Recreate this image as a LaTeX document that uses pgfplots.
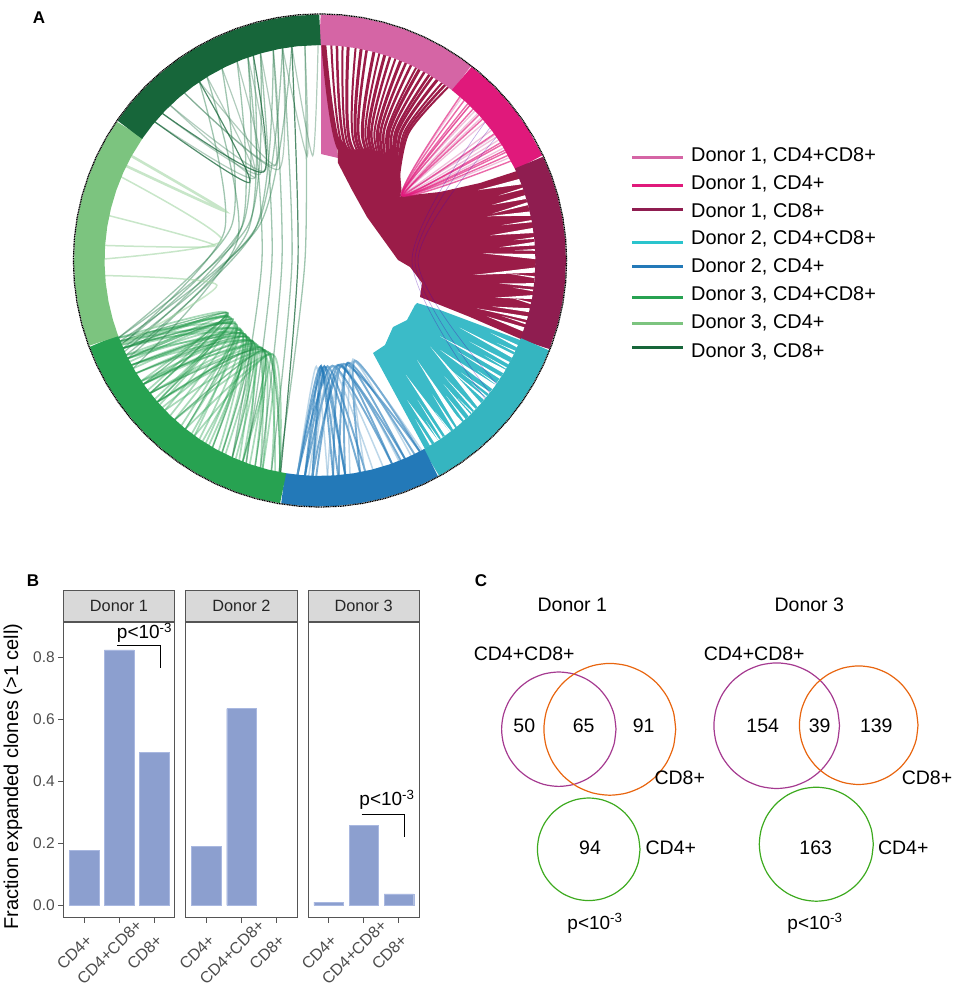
\documentclass[border=0pt]{standalone}
\usepackage{fontspec}
\setmainfont{Liberation Sans}
\usepackage{pgfplots}
\usepackage{pgfplotstable}
\pgfplotsset{compat=1.18}
\newcommand\fs[1]{\fontsize{#1}{#1}\selectfont}

\definecolor{dacd48}{HTML}{D565A5}
\definecolor{dacd4}{HTML}{E0197B}
\definecolor{dacd8}{HTML}{8F1D50}
\definecolor{dbcd48}{HTML}{35B5C0}
\definecolor{dbcd4}{HTML}{2379B8}
\definecolor{dccd48}{HTML}{27A251}
\definecolor{dccd4}{HTML}{7CC47F}
\definecolor{dccd8}{HTML}{17663A}
\definecolor{solidred}{HTML}{9B1C48}
\definecolor{solidteal}{HTML}{3BBBC8}
\definecolor{barblue}{HTML}{8C9FCF}
\definecolor{barline}{HTML}{A9B8E0}
\definecolor{frame}{HTML}{555555}
\definecolor{ticktxt}{HTML}{4D4D4D}
\definecolor{vpurple}{HTML}{A53A90}
\definecolor{vorange}{HTML}{E8650F}
\definecolor{vgreen}{HTML}{3DAA1F}

\pgfplotsset{
  canvas/.style={scale only axis, width=957pt, height=988pt, at={(0pt,0pt)},
    anchor=south west, hide axis, clip=false},
  pixel/.style={canvas, xmin=0, xmax=957, ymin=0, ymax=988, y dir=reverse},
  circ/.style={canvas, xmin=-320, xmax=637, ymin=-727.5, ymax=260.5},
  chB/.style={smooth, tension=.4, draw=dbcd4, line width=1.9pt, opacity=.62},
  chBp/.style={smooth, tension=.4, draw=dbcd4!60, line width=1.5pt, opacity=.5},
  chG/.style={smooth, tension=.4, draw=dccd48, line width=1.7pt, opacity=.4},
  chGb/.style={smooth, tension=.4, draw=dccd48!90!black, line width=1.3pt, opacity=.55},
  chL/.style={smooth, tension=.45, draw=dccd8!75!dccd48, line width=1.3pt, opacity=.42},
  chE/.style={smooth, tension=.4, draw=dccd8!80!white, line width=1.2pt, opacity=.42},
  chEd/.style={smooth, tension=.4, draw=dccd8, line width=1.2pt, opacity=.75},
  chP/.style={smooth, tension=.4, draw=dccd4!70!white, line width=1.5pt, opacity=.6},
  chM/.style={smooth, tension=.4, draw=dacd4, line width=1.4pt, opacity=.65},
  chMp/.style={smooth, tension=.4, draw=dacd48!70!white, line width=1.3pt, opacity=.55},
  chX/.style={smooth, draw=violet!60!blue, line width=.6pt, opacity=.35},
  panel/.style={scale only axis, width=111.3pt, height=295.4pt, anchor=south west,
    xmin=-0.59, xmax=2.58, ymin=-0.04, ymax=0.914, clip=false,
    xtick={0,1,2}, xticklabels={CD4+,CD4+CD8+,CD8+},
    tick align=outside, xtick pos=lower, ytick pos=left,
    major tick length=5pt,
    tick style={frame, line width=1pt}, axis line style={frame, line width=1pt},
    x tick label style={rotate=45, anchor=center, xshift=-27.6pt, yshift=-14.1pt, font=\fs{16.2}, text=ticktxt, inner sep=0pt},
    y tick label style={font=\fs{15.5}, text=ticktxt},
    /pgf/number format/.cd, fixed, fixed zerofill, precision=1, assume math mode=true},
}

% chords: bearing of both ends on the ring, radius of the tip
\newcommand\chords[2]{\foreach \a/\b/\r in {#2}{%
  \pgfmathsetmacro\pa{90-\a}\pgfmathsetmacro\pb{90-\b}\pgfmathsetmacro\pm{90-(\a+\b)/2}%
  \edef\tmp{\noexpand\addplot[#1] coordinates {(\pa,216)(\pm,\r)(\pb,216)};}\tmp}}
% white gaps between the bundled chords: bearing, half width, tip bearing, tip radius
\newcommand\gaps[1]{\foreach \c/\w/\t/\r in {#1}{%
  \pgfmathsetmacro\pa{90-\c+\w}\pgfmathsetmacro\pb{90-\c-\w}\pgfmathsetmacro\pt{90-\t}%
  \edef\tmp{\noexpand\addplot[fill=white, draw=none, data cs=polar] coordinates {(\pa,217)(\pt,\r)(\pb,217)};}\tmp}}
% single strands from the top arc into the solid block
\newcommand\strands[1]{\foreach \a/\w in {#1}{%
  \pgfmathsetmacro\pa{90-\a}\pgfmathsetmacro\pv{90-(8.5+.72*\a)}\pgfmathsetmacro\rv{115+1.1*\a}\pgfmathsetmacro\re{88+.5*\a}%
  \edef\tmp{\noexpand\addplot[smooth, draw=solidred, line width=\w pt, data cs=polar] coordinates {(\pa,216)(\pv,\rv)(43,\re)};}\tmp}}

\pgfplotstableread{
c s
1 0
0.9659 0.2588
0.866 0.5
0.7071 0.7071
0.5 0.866
0.2588 0.9659
0 1
-0.2588 0.9659
-0.5 0.866
-0.7071 0.7071
-0.866 0.5
-0.9659 0.2588
-1 0
-0.9659 -0.2588
-0.866 -0.5
-0.7071 -0.7071
-0.5 -0.866
-0.2588 -0.9659
0 -1
0.2588 -0.9659
0.5 -0.866
0.7071 -0.7071
0.866 -0.5
0.9659 -0.2588
1 0
}\unitcircle

\begin{document}
\begin{tikzpicture}[x=1pt,y=1pt]
\useasboundingbox (0,0) rectangle (957,988);

% ---- panel A: solid bundles
\begin{axis}[pixel]
\addplot[fill=dacd48, draw=none] coordinates {(321,45)(321,154)(338,158)(333,110)(325,50)};
\addplot[fill=solidred, draw=none] coordinates {(338,163)(352,190)(367,217)(398,260)(410,267)(422,283)(420,297)(470,317)(523,340)
  (533,298)(536,260)(533,223)(523,187)(517,171)(480,183)(440,192)(402,196)(400,172)(388,155)(368,148)(350,150)(337,135)};
\addplot[fill=solidteal, draw=none] coordinates {(417,303)(440,310)(520,340)(521,340)(507,368)(485,399)(459,426)(425,449)
  (373,353)(385,345)(393,327)(407,320)(415,305)};
\end{axis}

% ---- panel A: ring and chords
\begin{axis}[circ]
\gaps{68.6/.8/66/173, 72.9/.55/72.1/181, 74.7/.4/74.8/179, 77.5/.6/75.2/173, 82/.7/81.6/172, 85.5/.5/85.8/180,
  89/.7/87.5/163, 92.5/.7/95.4/154, 96.5/.5/97.3/181, 99.7/.55/102/179, 103.3/.55/105/178, 105.5/.5/107/164, 108.7/.6/108.5/176,
  70.5/.25/70/190, 79.5/.3/79/185, 84/.25/84/195, 87.2/.25/87/195, 94.5/.25/94/190, 98/.25/98/195, 101.5/.25/101/195, 107/.25/107/190}
\gaps{116.4/.5/115.7/155, 113.5/.35/113/185, 118.5/.35/118.5/170, 121/.55/122.3/142, 123/.35/123.5/165, 126/.7/126.7/150,
  128/.3/128.5/180, 130/.35/130/170, 132.3/.7/128/140, 134/.3/133/170, 136/.35/135/175, 137.8/.3/137/185,
  139.8/.8/135.7/139, 141.5/.35/140/175, 143.7/.8/143.1/143, 145.5/.3/145/170, 147.3/.6/148/165, 149/.3/149/185,
  115/.2/115/195, 120/.2/120/190, 125/.2/125/192, 129.3/.2/129/195, 135/.2/135/195, 138.8/.2/138.8/195, 142.7/.2/142.7/190, 146.5/.2/146.5/192}
\strands{1/5, 3/2, 4.5/2.5, 6/2, 7.5/3, 9.5/2, 11/3, 12.5/2.5, 14.5/3, 16/2, 17.5/3, 19/2.5, 20.5/2,
  22/3, 23.5/2.5, 25/2.5, 26.5/2, 27.5/3, 29/2.5, 30.5/2.5, 31.5/2.5, 33/3, 34.5/2, 35.5/2.5, 36.5/2}
\chords{chMp, data cs=polar}{48.5/54.3/105, 47/56/105, 44/58.5/105, 41/61.5/105, 50/52.8/105, 46/55/105}
\chords{chM, data cs=polar}{42/60.8/105, 43.3/59.8/105, 45.3/57.5/105, 54/49/105, 40.5/62.5/105, 56.9/47.5/105, 59.2/44/105}
\chords{chX, data cs=polar}{52/128/95, 55/125/98, 50/130/92}
% donor 2, CD4+
\chords{chB, data cs=polar}{152.4/182/106, 156.8/184/106, 160.5/186/106, 167.9/184/106, 169.3/186/106, 173.3/186/106,
  175.2/184/106, 176.5/182/106, 160.5/176.5/106, 156.8/173.3/106, 152.4/169.3/106, 154/175/106, 158/181/106, 173.3/182/106}
\chords{chBp, data cs=polar}{165.8/182/106, 163/183/106, 155/168/104, 158.5/178/106, 151.8/172/106, 178/186/106}
% donor 3, CD4+CD8+
\chords{chG, data cs=polar}{190.7/229/105, 195.4/232/105, 197.5/235/105, 201/238.5/105, 204/241/105, 207/243/105, 209.9/246/105,
  215.6/249/107, 218.6/240/105, 222.4/235/105, 190.7/222.4/105, 195.4/218.6/105, 201/215.6/105, 193/226/105, 199/229/105,
  203/232/105, 206/235/105, 212/238.5/105, 214/241/105, 216.5/243/105, 220/246/105, 224/244/105, 226/248/106, 228/247/106,
  230/242/105, 192/236/105, 196/241/105, 200/244/106, 202/247/106, 208/248/106, 211/236/105, 213/227/105,
  249/233/107, 246/232/107, 243/236/108, 247.5/229/107}
\chords{chGb, data cs=polar}{190.7/232/105, 197.5/229/105, 204/235/105, 209.9/241/105, 218.6/246/105, 229/243/105, 235/246/106,
  201/222.4/105, 207/238.5/105, 232/248/106}
% donor 3, CD8+ to the others
\chords{chL, data cs=polar}{356/191/15, 350/193/28, 347.5/196/38, 344/200/48, 340.5/204/58,
  352.5/248/70, 350/246/72, 347.5/244/72, 344/249/80, 342/243/78, 340.5/247/85, 337.4/245/85, 333/249/95, 328.4/240/85, 326/247/100}
\chords{chE, data cs=polar}{359.5/352.5/105, 356/350/105, 347.5/321/105, 344/326/105, 340.5/316/105, 337.4/313/105, 333/310/105, 328.4/316/105, 350/321/100}
\chords{chEd, data cs=polar}{342/313/105, 326/310/105, 352.5/190.5/22}
% donor 3, CD4+
\chords{chP, data cs=polar}{292.8/270.4/100, 282/274/106, 266/247/106}
\chords{chP, line width=2.6pt, data cs=polar}{296/299/107}

% ring segments, angle and radius
\addplot[draw=dacd48, line width=30.5pt, data cs=polar] coordinates {(90,230.7)(85,230.7)(80,230.7)(75,230.7)(70,230.7)(65,230.7)(60,230.7)(55,230.7)(52.1,230.7)};
\addplot[draw=dacd4, line width=30.5pt, data cs=polar] coordinates {(52.1,230.7)(47,230.7)(42,230.7)(37,230.7)(32,230.7)(25.1,230.7)};
\addplot[draw=dacd8, line width=30.5pt, data cs=polar] coordinates {(25.1,230.7)(20,230.7)(15,230.7)(10,230.7)(5,230.7)(0,230.7)(-5,230.7)(-10,230.7)(-15,230.7)(-21.3,230.7)};
\addplot[draw=dbcd48, line width=30.5pt, data cs=polar] coordinates {(-21.3,230.7)(-26,230.7)(-31,230.7)(-36,230.7)(-41,230.7)(-46,230.7)(-51,230.7)(-56,230.7)(-61.2,230.7)};
\addplot[draw=dbcd4, line width=30.5pt, data cs=polar] coordinates {(-61.2,230.7)(-66,230.7)(-71,230.7)(-76,230.7)(-81,230.7)(-86,230.7)(-91,230.7)(-95,230.7)(-99.2,230.7)};
\addplot[draw=dccd48, line width=30.5pt, data cs=polar] coordinates {(-99.2,230.7)(-104,230.7)(-109,230.7)(-114,230.7)(-119,230.7)(-124,230.7)(-129,230.7)(-134,230.7)(-139,230.7)(-144,230.7)(-149,230.7)(-154,230.7)(-159.6,230.7)};
\addplot[draw=dccd4, line width=30.5pt, data cs=polar] coordinates {(-159.6,230.7)(-164,230.7)(-169,230.7)(-174,230.7)(-179,230.7)(-184,230.7)(-189,230.7)(-194,230.7)(-199,230.7)(-204,230.7)(-209,230.7)(-214.5,230.7)};
\addplot[draw=dccd8, line width=30.5pt, data cs=polar] coordinates {(-214.5,230.7)(-219,230.7)(-224,230.7)(-229,230.7)(-234,230.7)(-239,230.7)(-244,230.7)(-249,230.7)(-254,230.7)(-259,230.7)(-264,230.7)(-270,230.7)};
\addplot[draw=black, line width=1.3pt, dash pattern=on 1.1pt off .6pt, data cs=polar] coordinates {(0,246.6)(5,246.6)(10,246.6)(15,246.6)(20,246.6)(25,246.6)(30,246.6)(35,246.6)(40,246.6)(45,246.6)(50,246.6)(55,246.6)(60,246.6)(65,246.6)(70,246.6)(75,246.6)(80,246.6)(85,246.6)(90,246.6)(95,246.6)(100,246.6)(105,246.6)(110,246.6)(115,246.6)(120,246.6)(125,246.6)(130,246.6)(135,246.6)(140,246.6)(145,246.6)(150,246.6)(155,246.6)(160,246.6)(165,246.6)(170,246.6)(175,246.6)(180,246.6)(185,246.6)(190,246.6)(195,246.6)(200,246.6)(205,246.6)(210,246.6)(215,246.6)(220,246.6)(225,246.6)(230,246.6)(235,246.6)(240,246.6)(245,246.6)(250,246.6)(255,246.6)(260,246.6)(265,246.6)(270,246.6)(275,246.6)(280,246.6)(285,246.6)(290,246.6)(295,246.6)(300,246.6)(305,246.6)(310,246.6)(315,246.6)(320,246.6)(325,246.6)(330,246.6)(335,246.6)(340,246.6)(345,246.6)(350,246.6)(355,246.6)(360,246.6)};
\end{axis}

% ---- panel B
\begin{axis}[panel, at={(63.3pt,70.3pt)}, ytick={0,0.2,0.4,0.6,0.8}]
\addplot[ybar, bar width=29.6pt, fill=barblue, draw=barline] coordinates {(0,0.177)(1,0.825)(2,0.495)};
\addplot[black, line width=1pt] coordinates {(0.94,0.8375)(2.17,0.8375)(2.17,0.766)};
\node[draw=frame, line width=1pt, fill=black!15, minimum width=111.3pt, minimum height=31pt, inner sep=0pt, anchor=south, font=\fs{16.3}, text=black!85] at (rel axis cs:0.5,1) {Donor 1};
\end{axis}
\begin{axis}[panel, at={(185.7pt,70.3pt)}, ytick=\empty]
\addplot[ybar, bar width=29.6pt, fill=barblue, draw=barline] coordinates {(0,0.19)(1,0.635)};
\node[draw=frame, line width=1pt, fill=black!15, minimum width=111.3pt, minimum height=31pt, inner sep=0pt, anchor=south, font=\fs{16.3}, text=black!85] at (rel axis cs:0.5,1) {Donor 2};
\end{axis}
\begin{axis}[panel, at={(308pt,70.3pt)}, ytick=\empty]
\addplot[ybar, bar width=29.6pt, fill=barblue, draw=barline] coordinates {(0,0.01)(1,0.258)(2,0.037)};
\addplot[black, line width=1pt] coordinates {(0.94,0.2917)(2.17,0.2917)(2.17,0.2217)};
\node[draw=frame, line width=1pt, fill=black!15, minimum width=111.3pt, minimum height=31pt, inner sep=0pt, anchor=south, font=\fs{16.3}, text=black!85] at (rel axis cs:0.5,1) {Donor 3};
\end{axis}

% ---- legend, panel C and all loose text
\begin{axis}[pixel]
\addplot[draw=dacd48, line width=3pt] coordinates {(632,157)(683,157)};
\addplot[draw=dacd4, line width=3pt] coordinates {(632,185)(683,185)};
\addplot[draw=dacd8, line width=3pt] coordinates {(632,209.3)(683,209.3)};
\addplot[draw=dbcd48!80!cyan, line width=3pt] coordinates {(632,242)(683,242)};
\addplot[draw=dbcd4, line width=3pt] coordinates {(632,266.7)(683,266.7)};
\addplot[draw=dccd48, line width=3pt] coordinates {(632,297.7)(683,297.7)};
\addplot[draw=dccd4, line width=3pt] coordinates {(632,323.7)(683,323.7)};
\addplot[draw=dccd8, line width=3pt] coordinates {(632,347.7)(683,347.7)};
\foreach \y/\t in {156/{Donor 1, CD4+CD8+}, 184/{Donor 1, CD4+}, 211.7/{Donor 1, CD8+}, 239.3/{Donor 2, CD4+CD8+},
  266.7/{Donor 2, CD4+}, 295/{Donor 3, CD4+CD8+}, 322.7/{Donor 3, CD4+}, 351.7/{Donor 3, CD8+}}{
  \edef\tmp{\noexpand\node[anchor=west, inner sep=0pt, font=\noexpand\fs{19.9}] at (axis cs:691,\y) {\t};}\tmp}

% venn circles: centre and radius
\addplot[smooth, draw=vpurple, line width=1.2pt] table[x expr=558.8+57.2*\thisrow{c}, y expr=729.2+57.2*\thisrow{s}] {\unitcircle};
\addplot[smooth, draw=vorange, line width=1.2pt] table[x expr=609.8+65.9*\thisrow{c}, y expr=729.3+65.9*\thisrow{s}] {\unitcircle};
\addplot[smooth, draw=vgreen, line width=1.2pt] table[x expr=588.7+51.3*\thisrow{c}, y expr=849.3+51.3*\thisrow{s}] {\unitcircle};
\addplot[smooth, draw=vpurple, line width=1.2pt] table[x expr=776.7+62.8*\thisrow{c}, y expr=725.7+62.8*\thisrow{s}] {\unitcircle};
\addplot[smooth, draw=vorange, line width=1.2pt] table[x expr=858.7+59.3*\thisrow{c}, y expr=725.2+59.3*\thisrow{s}] {\unitcircle};
\addplot[smooth, draw=vgreen, line width=1.2pt] table[x expr=816.3+57*\thisrow{c}, y expr=844.2+57*\thisrow{s}] {\unitcircle};

\foreach \x/\y/\t in {572.3/605/Donor 1, 809.3/605/Donor 3, 524.2/653.3/CD4+CD8+, 754.2/653.3/CD4+CD8+,
  524.3/725.7/50, 583.7/725.7/65, 643.7/725.7/91, 762.7/725.7/154, 819.7/725.7/39, 876.3/725.7/139,
  590/847.7/94, 815.7/847.7/163, 679.7/777.3/CD8+, 927/777.3/CD8+, 670.8/847.7/CD4+, 903.2/847.7/CD4+}{
  \edef\tmp{\noexpand\node[inner sep=0pt, font=\noexpand\fs{19.5}] at (axis cs:\x,\y) {\t};}\tmp}

\foreach \x/\y in {595/923.3, 815/923.3, 144.5/633, 387/800}{
  \edef\tmp{\noexpand\node[inner sep=0pt, font=\noexpand\fs{19}] at (axis cs:\x,\y) {p<10\noexpand\textsuperscript{-3}};}\tmp}

\node[inner sep=0pt, rotate=90, font=\fs{20}] at (axis cs:13,776.7) {Fraction expanded clones (>1 cell)};
\node[inner sep=0pt, font=\fs{17}\bfseries] at (axis cs:39,18) {A};
\node[inner sep=0pt, font=\fs{17}\bfseries] at (axis cs:33,581) {B};
\node[inner sep=0pt, font=\fs{17}\bfseries] at (axis cs:481,581) {C};
\end{axis}
\end{tikzpicture}
\end{document}
